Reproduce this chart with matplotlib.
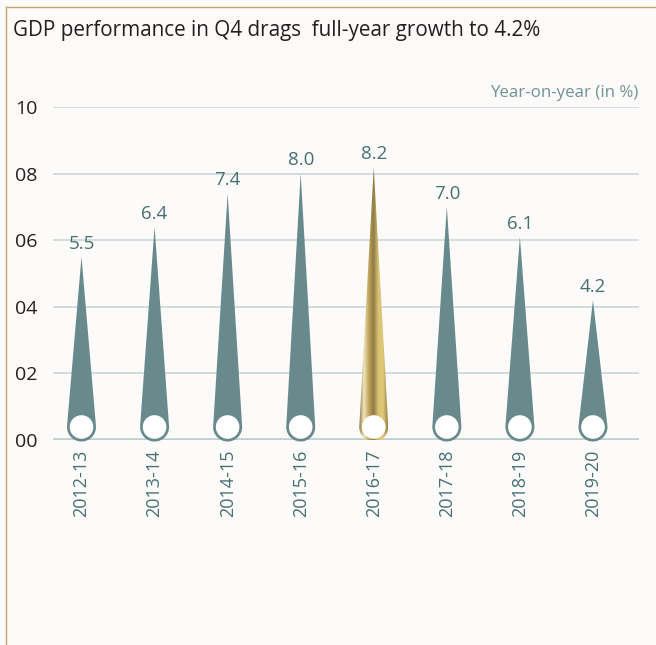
import matplotlib
matplotlib.use("Agg")
import matplotlib.pyplot as plt
import numpy as np
from matplotlib.path import Path
from matplotlib.patches import PathPatch, Ellipse
from matplotlib.lines import Line2D
from matplotlib.colors import LinearSegmentedColormap

plt.rcParams['font.family'] = ['Open Sans', 'DejaVu Sans']

# data
years = ["2012-13", "2013-14", "2014-15", "2015-16", "2016-17", "2017-18", "2018-19", "2019-20"]
growth = [5.5, 6.4, 7.4, 8.0, 8.2, 7.0, 6.1, 4.2]
highlight = "2016-17"
yticks = [0, 2, 4, 6, 8, 10]

bg = "#fcfbf9"
teal = "#698a8d"
label_teal = "#466f73"
grid_col = "#c9d8da"
gold_line = "#c0a76c"

W, H = 656, 645
fig = plt.figure(figsize=(W / 100, H / 100), dpi=100, facecolor=bg)
# axes placed in pixels: x 53..639, y(10)=107, y(0)=440
ax = fig.add_axes([53 / W, (H - 440) / H, (639 - 53) / W, (440 - 107) / H])
ax.set_facecolor(bg)
xlim = (-0.39, 7.63)
ylim = (0, 10)
ax.set_xlim(*xlim)
ax.set_ylim(*ylim)

# pixels per data unit
sx = (639 - 53) / (xlim[1] - xlim[0])
sy = (440 - 107) / (ylim[1] - ylim[0])

# grid
for t in yticks:
    if t == 0:
        ax.axhline(t, color="#bdd0d3", lw=2.6, zorder=1)
    else:
        ax.axhline(t, color=grid_col, lw=1.2, zorder=1)

R_out = 14.5   # px
R_in = 11.8    # px
cy_px = 13.0   # circle centre above baseline, px

gold_cmap = LinearSegmentedColormap.from_list(
    "gold", ["#8a7741", "#f1e6bd", "#c2a75e", "#8e7a45", "#d9c273", "#e0c979", "#9c8446"])


def drop_path(xc, val):
    # teardrop: tip at value, rounded bottom; built in pixels then scaled to data
    d = val * sy - cy_px
    th = np.arccos(R_out / d)
    # right tangent point clockwise round the bottom to left tangent point
    angles = np.linspace(np.pi / 2 - th, -(3 * np.pi / 2) + th, 80)
    px = R_out * np.cos(angles)
    py = cy_px + R_out * np.sin(angles)
    xs = np.concatenate([[0], px, [0]]) / sx + xc
    ys = np.concatenate([[val * sy], py, [val * sy]]) / sy
    verts = np.column_stack([xs, ys])
    codes = [Path.MOVETO] + [Path.LINETO] * (len(verts) - 2) + [Path.CLOSEPOLY]
    return Path(verts, codes)


for i, (yr, v) in enumerate(zip(years, growth)):
    path = drop_path(i, v)
    if yr == highlight:
        patch = PathPatch(path, facecolor="none", edgecolor="none", clip_on=False, zorder=3)
        ax.add_patch(patch)
        grad = np.linspace(0, 1, 256).reshape(1, -1)
        hw = R_out / sx
        im = ax.imshow(grad, cmap=gold_cmap, extent=[i - hw, i + hw, -0.1, v], aspect="auto",
                       zorder=3, interpolation="bilinear")
        im.set_clip_path(patch)
    else:
        ax.add_patch(PathPatch(path, facecolor=teal, edgecolor="none", clip_on=False, zorder=3))
    ax.add_patch(Ellipse((i, cy_px / sy), 2 * R_in / sx, 2 * R_in / sy,
                         facecolor="white", edgecolor="none", clip_on=False, zorder=4))
    ax.annotate(f"{v:.1f}", (i, v), xytext=(0, 3), textcoords="offset points",
                ha="center", va="bottom", fontsize=13.5, color=label_teal, zorder=5)

ax.set_xlim(*xlim)
ax.set_ylim(*ylim)

ax.set_xticks(range(len(years)))
ax.set_xticklabels(years, rotation=90, fontsize=13, color=label_teal)
ax.set_yticks(yticks)
ax.set_yticklabels([f"{t:02d}" for t in yticks], fontsize=14, color="#231f20")
ax.tick_params(axis="x", length=0, pad=7)
ax.tick_params(axis="y", length=0, pad=11)
for s in ax.spines.values():
    s.set_visible(False)

fig.text(13 / W, 1 - 36 / H, "GDP performance in Q4 drags  full-year growth to 4.2%",
         fontsize=14.9, color="#231f20", ha="left", va="baseline")
fig.text(638 / W, 1 - 97 / H, "Year-on-year (in %)", fontsize=12.2, color="#6f9396",
         ha="right", va="baseline")

# gold frame lines
fig.add_artist(Line2D([6 / W, 1], [1 - 7 / H, 1 - 7 / H], color=gold_line, lw=1.0))
fig.add_artist(Line2D([6 / W, 6 / W], [0, 1 - 7 / H], color=gold_line, lw=1.0))

fig.savefig("out.png", dpi=100, facecolor=bg)
